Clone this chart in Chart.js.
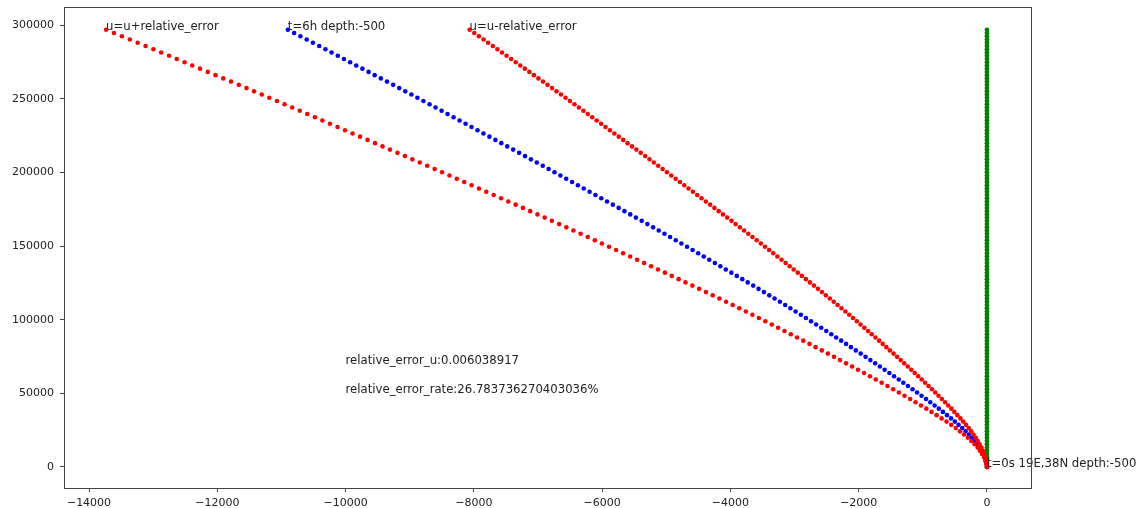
<!DOCTYPE html>
<html>
<head>
<meta charset="utf-8">
<script src="https://cdn.jsdelivr.net/npm/chart.js@4"></script>
<style>
  body { margin: 0; background: #fff; }
  canvas { display: block; }
</style>
</head>
<body>
<canvas id="myChart" width="1141" height="508"></canvas>
<script>
// y of every point (same for each track)
const depthY = [
  0,2200,4400,6600,8800,11000,13200,15400,17600,19800,
  22000,24200,26400,28600,30800,33000,35200,37400,39600,41800,
  44000,46200,48400,50600,52800,55000,57200,59400,61600,63800,
  66000,68200,70400,72600,74800,77000,79200,81400,83600,85800,
  88000,90200,92400,94600,96800,99000,101200,103400,105600,107800,
  110000,112200,114400,116600,118800,121000,123200,125400,127600,129800,
  132000,134200,136400,138600,140800,143000,145200,147400,149600,151800,
  154000,156200,158400,160600,162800,165000,167200,169400,171600,173800,
  176000,178200,180400,182600,184800,187000,189200,191400,193600,195800,
  198000,200200,202400,204600,206800,209000,211200,213400,215600,217800,
  220000,222200,224400,226600,228800,231000,233200,235400,237600,239800,
  242000,244200,246400,248600,250800,253000,255200,257400,259600,261800,
  264000,266200,268400,270600,272800,275000,277200,279400,281600,283800,
  286000,288200,290400,292600,294800,297000
];

// u
const blueX = [
  0,-8,-20,-35,-60,-87,-115,-153,-193,-235,
  -283,-333,-385,-442,-500,-560,-623,-686,-750,-816,
  -883,-950,-1020,-1090,-1160,-1231,-1303,-1375,-1448,-1521,
  -1595,-1669,-1743,-1818,-1893,-1968,-2044,-2120,-2196,-2273,
  -2350,-2427,-2505,-2584,-2663,-2742,-2822,-2902,-2983,-3065,
  -3146,-3228,-3311,-3394,-3477,-3561,-3645,-3730,-3815,-3900,
  -3985,-4071,-4156,-4242,-4329,-4415,-4502,-4589,-4676,-4764,
  -4852,-4940,-5028,-5117,-5205,-5294,-5383,-5473,-5562,-5652,
  -5742,-5832,-5923,-6013,-6104,-6195,-6286,-6377,-6468,-6560,
  -6651,-6743,-6834,-6926,-7018,-7110,-7202,-7294,-7387,-7479,
  -7572,-7664,-7757,-7850,-7943,-8036,-8129,-8223,-8316,-8410,
  -8503,-8597,-8691,-8786,-8880,-8974,-9069,-9163,-9258,-9354,
  -9450,-9546,-9641,-9737,-9833,-9929,-10025,-10121,-10218,-10314,
  -10411,-10509,-10606,-10704,-10802,-10900
];

// u+relative_error
const plusX = [
  0,-10,-25,-44,-76,-110,-145,-193,-243,-296,
  -357,-420,-485,-557,-630,-706,-785,-864,-945,-1028,
  -1113,-1197,-1285,-1373,-1462,-1551,-1642,-1733,-1824,-1916,
  -2010,-2103,-2196,-2291,-2385,-2480,-2575,-2671,-2767,-2864,
  -2961,-3058,-3156,-3256,-3355,-3455,-3556,-3657,-3759,-3862,
  -3964,-4067,-4172,-4276,-4381,-4487,-4593,-4700,-4807,-4914,
  -5021,-5129,-5237,-5345,-5455,-5563,-5673,-5782,-5892,-6003,
  -6114,-6224,-6335,-6447,-6558,-6670,-6783,-6896,-7008,-7122,
  -7235,-7348,-7463,-7576,-7691,-7806,-7920,-8035,-8150,-8266,
  -8380,-8496,-8611,-8727,-8843,-8959,-9075,-9190,-9308,-9424,
  -9541,-9657,-9774,-9891,-10008,-10125,-10243,-10361,-10478,-10597,
  -10714,-10832,-10951,-11070,-11189,-11307,-11427,-11545,-11665,-11786,
  -11907,-12028,-12148,-12269,-12390,-12511,-12632,-12752,-12875,-12996,
  -13118,-13241,-13364,-13487,-13611,-13734
];

// u-relative_error
const minusX = [
  0,-6,-15,-26,-44,-64,-85,-113,-143,-174,
  -209,-246,-285,-327,-370,-414,-461,-508,-555,-604,
  -653,-703,-755,-807,-858,-911,-964,-1017,-1072,-1126,
  -1180,-1235,-1290,-1345,-1401,-1456,-1513,-1569,-1625,-1682,
  -1739,-1796,-1854,-1912,-1971,-2029,-2088,-2147,-2207,-2268,
  -2328,-2389,-2450,-2512,-2573,-2635,-2697,-2760,-2823,-2886,
  -2949,-3013,-3075,-3139,-3203,-3267,-3331,-3396,-3460,-3525,
  -3590,-3656,-3721,-3787,-3852,-3918,-3983,-4050,-4116,-4182,
  -4249,-4316,-4383,-4450,-4517,-4584,-4652,-4719,-4786,-4854,
  -4922,-4990,-5057,-5125,-5193,-5261,-5329,-5398,-5466,-5534,
  -5603,-5671,-5740,-5809,-5878,-5947,-6015,-6085,-6154,-6223,
  -6292,-6362,-6431,-6502,-6571,-6641,-6711,-6781,-6851,-6922,
  -6993,-7064,-7134,-7205,-7276,-7347,-7418,-7490,-7561,-7632,
  -7704,-7777,-7848,-7921,-7993,-8066
];

// vertical track
const greenX = [
  0,0,0,0,0,0,0,0,0,0,
  0,0,0,0,0,0,0,0,0,0,
  0,0,0,0,0,0,0,0,0,0,
  0,0,0,0,0,0,0,0,0,0,
  0,0,0,0,0,0,0,0,0,0,
  0,0,0,0,0,0,0,0,0,0,
  0,0,0,0,0,0,0,0,0,0,
  0,0,0,0,0,0,0,0,0,0,
  0,0,0,0,0,0,0,0,0,0,
  0,0,0,0,0,0,0,0,0,0,
  0,0,0,0,0,0,0,0,0,0,
  0,0,0,0,0,0,0,0,0,0,
  0,0,0,0,0,0,0,0,0,0,
  0,0,0,0,0,0
];

const xTicks = [-14000, -12000, -10000, -8000, -6000, -4000, -2000, 0];
const yTicks = [0, 50000, 100000, 150000, 200000, 250000, 300000];

const notes = [
  { text: 'u=u+relative_error', x: -13734, y: 297000 },
  { text: 't=6h depth:-500', x: -10900, y: 297000 },
  { text: 'u=u-relative_error', x: -8066, y: 297000 },
  { text: 't=0s 19E,38N depth:-500', x: 0, y: 0 },
  { text: 'relative_error_u:0.006038917', x: -10000, y: 70000 },
  { text: 'relative_error_rate:26.783736270403036%', x: -10000, y: 50000 }
];

function toPoints(xs) {
  return depthY.map((y, i) => ({ x: xs[i], y: y }));
}

function fmt(v) {
  return String(v).replace('-', '\u2212');
}

Chart.defaults.font.family = '"DejaVu Sans", sans-serif';
Chart.defaults.font.size = 11;
Chart.defaults.color = '#222';

// text labels + full box around the plot
const notesPlugin = {
  id: 'notes',
  afterDatasetsDraw(chart) {
    const ctx = chart.ctx;
    const xs = chart.scales.x, ys = chart.scales.y;
    const a = chart.chartArea;
    ctx.save();
    ctx.font = '11.7px "DejaVu Sans", sans-serif';
    ctx.fillStyle = '#222';
    ctx.textAlign = 'left';
    ctx.textBaseline = 'alphabetic';
    notes.forEach(n => {
      ctx.fillText(n.text, xs.getPixelForValue(n.x), ys.getPixelForValue(n.y));
    });
    ctx.strokeStyle = '#444';
    ctx.lineWidth = 1;
    ctx.strokeRect(Math.round(a.left) + 0.5, Math.round(a.top) + 0.5,
      Math.round(a.right - a.left), Math.round(a.bottom - a.top));
    ctx.restore();
  }
};

const ctx = document.getElementById('myChart');

new Chart(ctx, {
  type: 'scatter',
  data: {
    datasets: [
      { data: toPoints(plusX), backgroundColor: '#ff0000', borderWidth: 0, pointRadius: 2.3 },
      { data: toPoints(minusX), backgroundColor: '#ff0000', borderWidth: 0, pointRadius: 2.3 },
      { data: toPoints(blueX), backgroundColor: '#0000ff', borderWidth: 0, pointRadius: 2.3 },
      { data: toPoints(greenX), backgroundColor: '#008000', borderWidth: 0, pointRadius: 2.4 }
    ]
  },
  options: {
    responsive: false,
    animation: false,
    events: [],
    layout: { padding: { top: 7, right: 110, left: 0, bottom: 0 } },
    plugins: {
      legend: { display: false },
      tooltip: { enabled: false }
    },
    scales: {
      x: {
        type: 'linear',
        min: -14390,
        max: 687,
        afterBuildTicks: s => { s.ticks = xTicks.map(v => ({ value: v })); },
        afterFit: s => { s.height = 20; s.paddingLeft = 0; s.paddingRight = 0; },
        grid: { drawOnChartArea: false, drawTicks: true, tickLength: 4, color: '#444' },
        border: { display: false },
        ticks: { padding: 5, maxRotation: 0, minRotation: 0, autoSkip: false, callback: v => fmt(v) }
      },
      y: {
        type: 'linear',
        min: -14300,
        max: 312500,
        afterBuildTicks: s => { s.ticks = yTicks.map(v => ({ value: v })); },
        afterFit: s => { s.width = 64; s.paddingTop = 0; s.paddingBottom = 0; },
        grid: { drawOnChartArea: false, drawTicks: true, tickLength: 4, color: '#444' },
        border: { display: false },
        ticks: { padding: 6, autoSkip: false, callback: v => fmt(v) }
      }
    }
  },
  plugins: [notesPlugin]
});
</script>
</body>
</html>
